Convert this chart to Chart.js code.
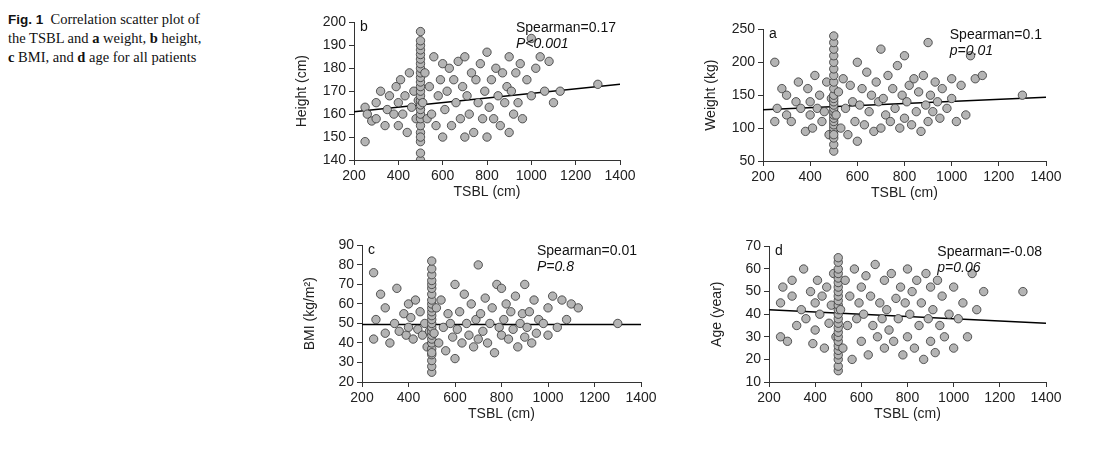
<!DOCTYPE html>
<html><head><meta charset="utf-8">
<script src="https://cdn.jsdelivr.net/npm/chart.js@4"></script>
<style>
body{margin:0;background:#fff;width:1115px;height:458px;position:relative;overflow:hidden}
.p{position:absolute}
#cap{position:absolute;left:8px;top:10px;font-family:"Liberation Serif";font-size:14.5px;line-height:19px;color:#111}
#cap b.f{font-family:"Liberation Sans";font-size:13.5px}
</style></head><body>
<div id="cap"><b class="f">Fig. 1</b>&nbsp; Correlation scatter plot of<br>the TSBL and <b>a</b> weight, <b>b</b> height,<br><b>c</b> BMI, and <b>d</b> age for all patients</div>
<div class="p" style="left:290px;top:11px;width:350px;height:194px"><canvas id="c1"></canvas></div>
<div class="p" style="left:699px;top:18px;width:367px;height:188px"><canvas id="c2"></canvas></div>
<div class="p" style="left:298px;top:234px;width:363px;height:193px"><canvas id="c3"></canvas></div>
<div class="p" style="left:705px;top:235px;width:361px;height:192px"><canvas id="c4"></canvas></div>
<script>
const tsbl=[250,250,260,280,300,300,320,340,350,360,380,390,400,400,410,420,430,440,450,460,470,480,490,
500,500,500,500,500,500,500,500,500,500,500,500,500,500,500,500,500,500,500,500,500,500,500,500,500,
510,520,530,540,550,560,570,580,590,600,600,610,620,630,640,650,660,670,680,690,700,700,
710,720,730,740,750,760,770,780,790,800,800,810,820,830,840,850,860,870,880,890,900,900,
910,920,930,940,950,960,980,1000,1000,1020,1040,1060,1080,1100,1130,1300];
const height=[148,163,160,157,165,158,170,155,162,168,160,172,155,165,175,160,168,152,178,163,170,158,166,
140,143,148,152,155,158,160,162,164,166,168,170,172,174,176,178,180,182,184,186,188,190,192,196,150,
165,178,158,172,160,185,155,168,175,150,182,162,170,180,155,175,165,183,158,172,150,185,
168,160,178,152,175,165,182,158,170,150,187,163,175,158,180,168,155,178,165,172,152,185,
170,160,178,165,182,158,175,168,193,180,185,170,183,165,170,173];
const weight=[110,200,130,160,120,150,110,140,170,130,95,160,120,140,100,180,130,150,110,125,170,90,145,
65,75,85,95,100,105,110,115,120,125,130,135,140,145,150,160,170,180,190,200,210,220,230,240,90,
120,155,100,175,130,90,165,140,110,80,200,135,160,105,185,125,150,95,170,140,220,100,
145,120,180,110,160,130,195,100,150,210,115,140,165,105,175,125,155,95,180,135,230,110,
150,125,170,140,115,160,130,175,145,110,165,120,210,175,180,150];
const bmi=[42,76,52,65,45,58,40,50,68,46,55,44,60,48,53,42,62,47,56,44,50,38,46,
25,28,31,34,37,40,42,44,46,48,50,52,54,56,58,60,62,65,68,70,72,75,78,82,35,
45,58,40,62,48,36,55,50,43,32,70,47,56,40,65,50,44,60,38,52,80,42,
55,46,63,40,50,58,35,70,48,68,44,52,60,42,56,47,64,38,50,55,70,43,
48,56,40,62,45,52,50,58,44,64,48,62,52,60,58,50];
const age=[30,45,52,28,48,55,35,42,60,38,50,27,45,33,55,40,48,25,52,36,44,58,30,
15,17,20,22,24,26,28,30,32,34,36,38,40,42,44,46,48,50,52,54,56,58,60,63,65,
42,25,55,35,48,20,60,38,45,28,52,40,57,22,48,35,62,30,45,38,25,55,
42,33,58,28,47,38,52,22,45,60,30,40,50,25,55,35,45,20,58,38,28,52,
42,23,55,35,48,30,40,25,52,38,45,30,58,42,50,50];
const xTicks=[200,1400];
const panels=[
 {id:'c1',y:height,letter:'b',title:'Height (cm)',min:140,max:200,step:10,fit:[161,173],s:'Spearman=0.17',p:'P<0.001'},
 {id:'c2',y:weight,letter:'a',title:'Weight (kg)',min:50,max:250,step:50,fit:[128,147],s:'Spearman=0.1',p:'p=0.01'},
 {id:'c3',y:bmi,letter:'c',title:'BMI (kg/m²)',min:20,max:90,step:10,fit:[49.5,49.5],s:'Spearman=0.01',p:'P=0.8'},
 {id:'c4',y:age,letter:'d',title:'Age (year)',min:10,max:70,step:10,fit:[42,36],s:'Spearman=-0.08',p:'p=0.06'}
];
const F="Liberation Sans";
panels.forEach(P=>{
 const pts=tsbl.map((x,i)=>({x:x,y:P.y[i]}));
 const txt={id:'txt',afterDraw(c){const g=c.ctx,a=c.chartArea;g.save();g.fillStyle='#111';
  g.font='14px "'+F+'"';g.textBaseline='top';g.textAlign='left';g.fillText(P.letter,a.left+6,a.top-2);
  const w=g.measureText(P.s).width, x0=a.right-4-w;
  g.fillText(P.s,x0,a.top-1);g.font='italic 14px "'+F+'"';g.fillText(P.p,x0,a.top+15);g.restore();}};
 new Chart(document.getElementById(P.id),{type:'scatter',
  data:{datasets:[
   {data:pts,backgroundColor:'#b4b4b4',borderColor:'#333',borderWidth:0.8,pointRadius:4.2},
   {type:'line',data:[{x:xTicks[0],y:P.fit[0]},{x:xTicks[1],y:P.fit[1]}],borderColor:'#000',borderWidth:1.5,pointRadius:0}
  ]},
  options:{responsive:true,maintainAspectRatio:false,animation:false,
   layout:{padding:{top:8,right:20}},
   plugins:{legend:{display:false},tooltip:{enabled:false}},
   scales:{
    x:{type:'linear',min:xTicks[0],max:xTicks[1],ticks:{stepSize:200,autoSkip:false,callback:v=>String(v),color:'#222',font:{family:F,size:14}},
       grid:{drawOnChartArea:false,tickLength:5,color:'#333'},border:{color:'#333'},
       title:{display:true,text:'TSBL (cm)',color:'#222',font:{family:F,size:14},padding:{top:2}},
       afterFit(s){s.height=45;}},
    y:{min:P.min,max:P.max,ticks:{stepSize:P.step,autoSkip:false,callback:v=>String(v),color:'#222',font:{family:F,size:14}},
       grid:{drawOnChartArea:false,tickLength:5,color:'#333'},border:{color:'#333'},
       title:{display:true,text:P.title,color:'#222',font:{family:F,size:14},padding:{bottom:2}},
       afterFit(s){s.width=64;}}
   }},plugins:[txt]});
});
</script></body></html>
